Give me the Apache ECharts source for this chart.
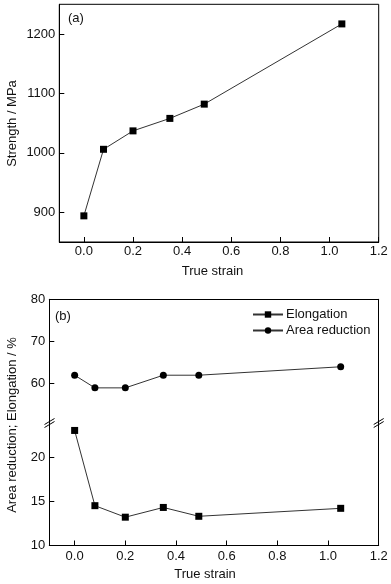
<!DOCTYPE html>
<html>
<head>
<meta charset="utf-8">
<script src="https://cdn.jsdelivr.net/npm/echarts@6/dist/echarts.min.js"></script>
<style>
html,body{margin:0;padding:0;background:#fff;}
#chart{width:391px;height:584px;}
</style>
</head>
<body>
<div id="chart"></div>
<script>
// ---- data ----
const strain = [0, 0.08, 0.2, 0.35, 0.49, 1.05];
const strength = [894, 1006, 1037, 1058, 1082, 1217];
const elongation = [23.0, 14.5, 13.2, 14.3, 13.3, 14.2];
const areaReduction = [62, 59, 59, 62, 62, 64];
const xTicks = [0, 0.2, 0.4, 0.6, 0.8, 1.0, 1.2];
const strengthTicks = [900, 1000, 1100, 1200];
const areaTicks = [60, 70, 80];
const elongTicks = [10, 15, 20];

const FONT = '"Liberation Sans", Arial, sans-serif';
const TXT = '#111';
const LINE = '#000';

const chart = echarts.init(document.getElementById('chart'), null, {renderer: 'canvas'});

function xAxisBottom(gridIndex, labelMargin, nameGap, padRight) {
  return {
    type: 'value', gridIndex, min: -0.1, max: 1.2, position: 'bottom',
    name: 'True strain', nameLocation: 'middle', nameGap,
    nameTextStyle: {fontFamily: FONT, fontSize: 13, color: TXT, padding: [0, padRight, 0, 0]},
    axisLine: {show: true, onZero: false, lineStyle: {color: LINE, width: 1}},
    axisTick: {show: true, inside: true, length: 5, customValues: xTicks, lineStyle: {color: LINE}},
    axisLabel: {show: true, margin: labelMargin, customValues: xTicks, fontFamily: FONT, fontSize: 13, color: TXT,
      formatter: v => Number(v).toFixed(1)},
    splitLine: {show: false}
  };
}
function yAxisLeft(gridIndex, min, max, ticks) {
  return {
    type: 'value', gridIndex, min, max, position: 'left',
    axisLine: {show: true, onZero: false, lineStyle: {color: LINE, width: 1}},
    axisTick: {show: true, inside: true, length: 5, customValues: ticks, lineStyle: {color: LINE}},
    axisLabel: {show: true, margin: 4, customValues: ticks, fontFamily: FONT, fontSize: 13, color: TXT,
      formatter: v => String(v)},
    splitLine: {show: false}
  };
}
function yAxisRightLine(gridIndex, min, max) {
  return {
    type: 'value', gridIndex, min, max, position: 'right',
    axisLine: {show: true, onZero: false, lineStyle: {color: LINE, width: 1}},
    axisTick: {show: false}, axisLabel: {show: false}, splitLine: {show: false}
  };
}

const lineStyle = {color: '#333', width: 1};
const itemStyle = {color: '#000'};

const option = {
  animation: false,
  backgroundColor: '#fff',
  grid: [
    {left: 59.3, top: 4.3, width: 319.4, height: 237.7, show: true, borderColor: LINE, borderWidth: 1,
      backgroundColor: 'transparent', containLabel: false, outerBoundsMode: 'none'},
    {left: 49.3, top: 299.3, width: 329.4, height: 122.3, containLabel: false, outerBoundsMode: 'none'},
    {left: 49.3, top: 421.6, width: 329.4, height: 123.9, containLabel: false, outerBoundsMode: 'none'}
  ],
  xAxis: [
    xAxisBottom(0, 3, 23, 13),
    {
      type: 'value', gridIndex: 1, min: -0.1, max: 1.2, position: 'top',
      axisLine: {show: true, onZero: false, lineStyle: {color: LINE, width: 1}},
      axisTick: {show: false}, axisLabel: {show: false}, splitLine: {show: false}
    },
    xAxisBottom(2, 4, 22, 18)
  ],
  yAxis: [
    yAxisLeft(0, 850, 1250, strengthTicks),
    yAxisLeft(1, 51, 80, areaTicks),
    yAxisRightLine(1, 51, 80),
    yAxisLeft(2, 10, 24, elongTicks),
    yAxisRightLine(2, 10, 24)
  ],
  legend: {
    orient: 'vertical', left: 252, top: 308, itemWidth: 30, itemHeight: 8, itemGap: 3,
    data: ['Elongation', 'Area reduction'],
    textStyle: {fontFamily: FONT, fontSize: 13, color: TXT, padding: [0, 0, 0, -2]},
    padding: 0
  },
  series: [
    {
      name: 'Strength', type: 'line', xAxisIndex: 0, yAxisIndex: 0,
      data: strain.map((x, i) => [x, strength[i]]),
      symbol: 'rect', symbolSize: 7, showAllSymbol: true, itemStyle, lineStyle
    },
    {
      name: 'Area reduction', type: 'line', xAxisIndex: 1, yAxisIndex: 1,
      data: strain.map((x, i) => [x, areaReduction[i]]),
      symbol: 'circle', symbolSize: 7, showAllSymbol: true, itemStyle, lineStyle
    },
    {
      name: 'Elongation', type: 'line', xAxisIndex: 2, yAxisIndex: 3,
      data: strain.map((x, i) => [x, elongation[i]]),
      symbol: 'rect', symbolSize: 7, showAllSymbol: true, itemStyle, lineStyle
    }
  ],
  graphic: [
    {type: 'text', x: 68, y: 18.3, style: {text: '(a)', font: '13px ' + FONT, fill: TXT, textVerticalAlign: 'middle'}},
    {type: 'text', x: 55, y: 316.7, style: {text: '(b)', font: '13px ' + FONT, fill: TXT, textVerticalAlign: 'middle'}},
    {type: 'text', x: 12, y: 123.5, rotation: Math.PI / 2,
      style: {text: 'Strength / MPa', font: '13px ' + FONT, fill: TXT, textAlign: 'center', textVerticalAlign: 'middle'}},
    {type: 'text', x: 12, y: 425, rotation: Math.PI / 2,
      style: {text: 'Area reduction; Elongation / %', font: '13px ' + FONT, fill: TXT, textAlign: 'center', textVerticalAlign: 'middle'}},
    // axis break marks
    {type: 'line', shape: {x1: 44.5, y1: 424.5, x2: 54.5, y2: 418.5}, style: {stroke: '#000', lineWidth: 1}},
    {type: 'line', shape: {x1: 44.5, y1: 427.5, x2: 54.5, y2: 421.5}, style: {stroke: '#000', lineWidth: 1}},
    {type: 'line', shape: {x1: 373.7, y1: 424.5, x2: 383.7, y2: 418.5}, style: {stroke: '#000', lineWidth: 1}},
    {type: 'line', shape: {x1: 373.7, y1: 427.5, x2: 383.7, y2: 421.5}, style: {stroke: '#000', lineWidth: 1}}
  ]
};
chart.setOption(option);
</script>
</body>
</html>
